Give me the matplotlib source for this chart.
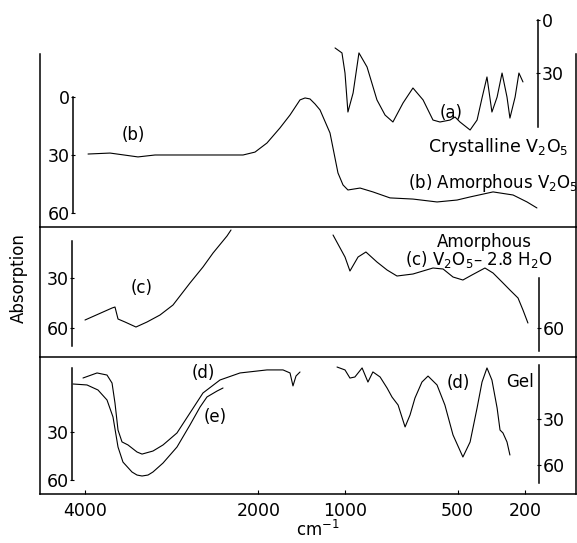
import numpy as np
import matplotlib
matplotlib.use("Agg")
import matplotlib.pyplot as plt

plt.rcParams['font.family'] = 'DejaVu Sans'
plt.rcParams['mathtext.default'] = 'regular'

# ---- data (wavenumber in cm-1, absorption) ----
a_wn = [1115, 1035, 1000, 987, 964, 938, 902, 858, 822, 787, 742, 698, 653, 609, 578,
        533, 511, 489, 444, 413, 391, 369, 347, 324, 302, 280, 267, 244, 227, 209]
a_abs = [15.7, 18.5, 29.8, 51.7, 41, 18.5, 26.4, 44.9, 53.4, 57.3, 46.6, 38.2, 44.9, 56.2, 57.3,
         56.2, 54.5, 57.3, 61.8, 56.2, 43.8, 32, 51.7, 43.3, 29.8, 43.3, 55.1, 43.3, 29.8, 34.8]

b_wn = [3964, 3710, 3388, 3191, 2672, 2176, 2038, 1900, 1750, 1634, 1519, 1461, 1404, 1346,
        1288, 1173, 1081, 1023, 987, 933, 876, 800, 698, 591, 502, 444, 342, 253, 191, 147]
b_abs = [29.5, 29, 31, 30, 30, 30, 28.5, 23.8, 16, 9.3, 1.5, 0.5, 1.0, 3.6,
         6.7, 18.6, 39.3, 45.5, 48.1, 47.1, 49.1, 52.2, 52.8, 54.3, 53.3, 51.7, 49.1, 50.7, 54.3, 57.4]

c_wn_hi = [3999, 3687, 3653, 3618, 3537, 3411, 3284, 3134, 2984, 2788, 2638, 2522, 2361, 2315]
c_abs_hi = [55.2, 48, 47.4, 54.6, 56.4, 59.4, 56.4, 52.2, 46.2, 33, 23.4, 15, 4.8, 1.2]
c_wn_lo = [1138, 1000, 978, 942, 907, 858, 813, 769, 698, 609, 564, 520, 476, 436, 378,
           342, 302, 267, 231, 209, 187]
c_abs_lo = [4.2, 17.4, 25.8, 17.4, 14.4, 20.4, 25.2, 28.8, 27.6, 24, 24.6, 29.4, 31.2, 28.2, 24,
            27, 32.4, 37.2, 42, 49.2, 57]

d_wn_hi = [4022, 3860, 3745, 3687, 3653, 3618, 3572, 3503, 3399, 3341, 3215, 3099, 2938, 2788,
           2638, 2442, 2211, 1900, 1715, 1634, 1600, 1565, 1519]
d_abs_hi = [-3.75, -6.9, -5.6, -0.6, 11.9, 28.8, 36.2, 38.1, 42.5, 43.8, 41.9, 38.1, 30.6, 18.1,
            5.6, -2.5, -6.9, -8.8, -8.8, -6.9, 1.2, -5, -7.5]
d_wn_lo = [1092, 1000, 978, 956, 924, 898, 876, 844, 813, 791, 764, 733, 711, 689, 658, 631,
           591, 556, 520, 476, 444, 413, 391, 369, 347, 324, 311, 298, 280, 267]
d_abs_lo = [-3.9, -2.0, 3.3, 2.6, -3.3, 5.9, -0.7, 2.6, 9.8, 15.7, 20.9, 35.2, 27.4, 16.3, 5.9, 2.0,
            7.8, 20.9, 40.4, 54.8, 45, 22.8, 5.9, -3.3, 4.6, 22.8, 37.2, 39.1, 45, 53.5]

e_wn = [4137, 3976, 3849, 3745, 3676, 3618, 3561, 3457, 3399, 3341, 3272, 3215, 3099, 2938,
        2788, 2672, 2592, 2476, 2407]
e_abs = [0, 0.6, 3.75, 10, 20.6, 39.4, 48.8, 55, 56.9, 57.5, 56.9, 55, 49.4, 39.4,
         25.6, 14.4, 8.1, 4.4, 2.5]

x_ticks = [4000, 2000, 1000, 500, 200]

# ---- figure geometry (pixels) ----
W, H = 577, 543
X0, X1 = 40, 576


def fx(x):
    return x / W


def fy(y):
    return 1 - y / H


# pixel position of a wavenumber; the scale is expanded below 1000 cm-1
def w2px(w):
    w = np.asarray(w, float)
    return np.where(w >= 1000, 345 - (w - 1000) * 0.0867, 345 + (1000 - w) * 0.225)


def px2w(p):
    p = np.asarray(p, float)
    return np.where(p <= 345, 1000 + (345 - p) / 0.0867, 1000 - (p - 345) / 0.225)


# increasing forward function, axis is then inverted through the limits
def fwd(w):
    return -w2px(w)


def inv(q):
    return px2w(-np.asarray(q, float))


fig = plt.figure(figsize=(W / 100, H / 100), dpi=100)
fig.patch.set_facecolor('white')

LW_FRAME = 1.1
LW_CURVE = 0.8


def frame_axes(top, bottom, sharex=None):
    ax = fig.add_axes([fx(X0), fy(bottom), fx(X1 - X0), (bottom - top) / H], sharex=sharex)
    ax.set_facecolor('none')
    ax.set_yticks([])
    ax.spines['top'].set_visible(False)
    for s in ('left', 'right', 'bottom'):
        ax.spines[s].set_linewidth(LW_FRAME)
    return ax


ax_bot = frame_axes(357, 494)
ax_bot.set_xscale('function', functions=(fwd, inv))
ax_bot.set_xlim(float(px2w(X0)), float(px2w(X1)))
ax_mid = frame_axes(227, 357, sharex=ax_bot)
ax_top = frame_axes(54, 227, sharex=ax_bot)
for ax in (ax_mid, ax_top):
    ax.tick_params(bottom=False, labelbottom=False)

ax_bot.set_xticks(x_ticks)
ax_bot.set_xticklabels([str(t) for t in x_ticks])
ax_bot.tick_params(axis='x', direction='in', length=3, width=0.8, pad=6, labelsize=12.5)


def layer(top, bottom, y0, k):
    # transparent axes whose y units match one scale bar: unit 0 at pixel y0, k px per unit
    ax = fig.add_axes([fx(X0), fy(bottom), fx(X1 - X0), (bottom - top) / H], sharex=ax_bot)
    ax.set_facecolor('none')
    ax.set_ylim((bottom - y0) / k, (top - y0) / k)
    for s in ax.spines.values():
        s.set_visible(False)
    ax.tick_params(bottom=False, labelbottom=False, left=False, labelleft=False)
    return ax


def scale_bar(ax, side, pos_px, lo, hi, ticks):
    sp = ax.spines[side]
    sp.set_visible(True)
    sp.set_position(('data', float(px2w(pos_px))))
    sp.set_bounds(lo, hi)
    sp.set_linewidth(1.1)
    ax.set_yticks(ticks)
    ax.set_yticklabels([str(t) for t in ticks])
    if side == 'left':
        ax.tick_params(axis='y', left=True, labelleft=True, right=False, labelright=False,
                       direction='inout', length=3, width=0.8, pad=1, labelsize=12.5)
    else:
        ax.tick_params(axis='y', right=True, labelright=True, left=False, labelleft=False,
                       direction='inout', length=3, width=0.8, pad=1, labelsize=12.5)


def curve(ax, wn, ab):
    ax.plot(wn, ab, color='black', lw=LW_CURVE, solid_joinstyle='round', solid_capstyle='round')


# top panel: (b) amorphous, left scale; (a) crystalline, right scale
L_b = layer(54, 227, 97, 1.933)
scale_bar(L_b, 'left', 73, 0, 60, [0, 30, 60])
curve(L_b, b_wn, b_abs)

L_a = layer(5, 227, 20, 1.78)
scale_bar(L_a, 'right', 538, 0, 60, [0, 30])
curve(L_a, a_wn, a_abs)

# middle panel: (c) amorphous V2O5 - 2.8 H2O
L_c = layer(227, 357, 228, 1.667)
scale_bar(L_c, 'left', 72, 8, 71, [30, 60])
curve(L_c, c_wn_hi, c_abs_hi)
curve(L_c, c_wn_lo, c_abs_lo)
L_c2 = layer(227, 357, 228, 1.667)
scale_bar(L_c2, 'right', 539, 30, 74, [60])

# bottom panel: (d) gel and (e)
L_d = layer(357, 494, 384, 1.6)
scale_bar(L_d, 'left', 72, -10, 60, [30, 60])
curve(L_d, d_wn_hi, d_abs_hi)
curve(L_d, e_wn, e_abs)
L_g = layer(357, 494, 373, 1.533)
scale_bar(L_g, 'right', 539, -5, 72, [30, 60])
curve(L_g, d_wn_lo, d_abs_lo)

# ---- annotations ----


def label(x, y, s, ha='center', fs=12, **kw):
    fig.text(fx(x), fy(y), s, ha=ha, va='center', fontsize=fs, **kw)


label(133, 135, '(b)')
label(451, 113, '(a)')
label(428, 147, 'Crystalline V$_2$O$_5$', ha='left', fs=12.5)
label(408, 183, '(b) Amorphous V$_2$O$_5$', ha='left')
label(484, 242, 'Amorphous')
label(405, 260, '(c) V$_2$O$_5$\u2013 2.8 H$_2$O', ha='left')
label(142, 288, '(c)')
label(203, 373, '(d)')
label(215, 417, '(e)')
label(458, 383, '(d)')
label(520, 382, 'Gel')
label(19, 278, 'Absorption', rotation=90)
label(318, 530, 'cm$^{-1}$')

fig.savefig('out.png', dpi=100)
